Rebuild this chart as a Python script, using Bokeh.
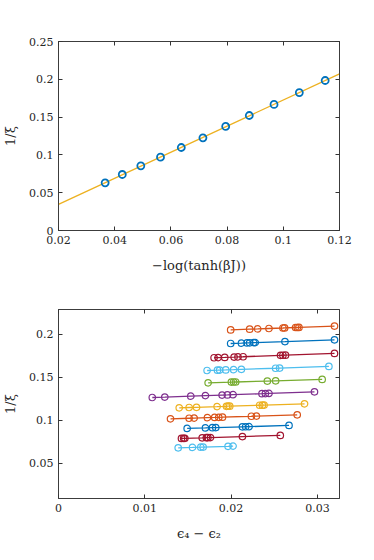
import numpy as np
from bokeh.plotting import figure
from bokeh.layouts import column
from bokeh.models import LinearAxis, FixedTicker, Range1d
from bokeh.embed import file_html
from bokeh.resources import INLINE

# ---------- data: top panel ----------
top_x = [0.0366, 0.0427, 0.0493, 0.0563, 0.0637, 0.0714, 0.0795, 0.0879, 0.0967, 0.1057, 0.1149]
top_y = [0.0630, 0.0741, 0.0855, 0.0970, 0.1098, 0.1226, 0.1376, 0.1521, 0.1667, 0.1825, 0.1984]
top_xticks = [0.02, 0.04, 0.06, 0.08, 0.10, 0.12]
top_xlabels = ["0.02", "0.04", "0.06", "0.08", "0.1", "0.12"]
top_yticks = [0, 0.05, 0.10, 0.15, 0.20, 0.25]
top_ylabels = ["0", "0.05", "0.1", "0.15", "0.2", "0.25"]

# ---------- data: bottom panel (top series first) ----------
s1_x = [0.01995, 0.02215, 0.02308, 0.02439, 0.02601, 0.02620, 0.02747, 0.02767, 0.02786, 0.03198]
s1_y = [0.2053, 0.2061, 0.2064, 0.2069, 0.2075, 0.2076, 0.2081, 0.2081, 0.2082, 0.2097]
s2_x = [0.01995, 0.0212, 0.02185, 0.02215, 0.02262, 0.0228, 0.02624, 0.03198]
s2_y = [0.1895, 0.1899, 0.1902, 0.1903, 0.1905, 0.1905, 0.1917, 0.1938]
s3_x = [0.01803, 0.0185, 0.01926, 0.02035, 0.0208, 0.02139, 0.02573, 0.026, 0.0263, 0.03198]
s3_y = [0.1729, 0.1731, 0.1733, 0.1737, 0.1739, 0.1741, 0.1757, 0.1758, 0.1759, 0.1779]
s4_x = [0.01722, 0.01842, 0.01868, 0.01938, 0.0203, 0.02119, 0.02516, 0.02562, 0.03133]
s4_y = [0.1581, 0.1585, 0.1586, 0.1588, 0.1591, 0.1594, 0.1607, 0.1609, 0.1628]
s5_x = [0.01734, 0.02003, 0.0203, 0.02053, 0.0242, 0.02516, 0.03055]
s5_y = [0.1438, 0.1446, 0.1447, 0.1447, 0.1458, 0.1461, 0.1477]
s6_x = [0.01087, 0.01232, 0.01533, 0.01703, 0.01896, 0.01957, 0.02023, 0.02358, 0.02397, 0.02439, 0.02966]
s6_y = [0.1267, 0.1272, 0.1283, 0.1289, 0.1295, 0.1297, 0.1300, 0.1311, 0.1313, 0.1314, 0.1333]
s7_x = [0.01399, 0.01514, 0.01599, 0.01838, 0.01946, 0.01965, 0.01984, 0.02331, 0.02362, 0.02382, 0.02851]
s7_y = [0.1147, 0.1151, 0.1153, 0.1161, 0.1165, 0.1166, 0.1166, 0.1177, 0.1178, 0.1179, 0.1194]
s8_x = [0.01298, 0.01514, 0.01572, 0.01726, 0.0181, 0.01857, 0.019, 0.02235, 0.02293, 0.02766]
s8_y = [0.1019, 0.1026, 0.1028, 0.1033, 0.1035, 0.1037, 0.1038, 0.1049, 0.1051, 0.1066]
s9_x = [0.01491, 0.01703, 0.01784, 0.01822, 0.02131, 0.02169, 0.02208, 0.02671]
s9_y = [0.0907, 0.0913, 0.0916, 0.0917, 0.0926, 0.0927, 0.0928, 0.0942]
s10_x = [0.01425, 0.0145, 0.01464, 0.01665, 0.01714, 0.0173, 0.01761, 0.02131, 0.0257]
s10_y = [0.0791, 0.0792, 0.0792, 0.0798, 0.0800, 0.0800, 0.0801, 0.0813, 0.0826]
s11_x = [0.01387, 0.01553, 0.01649, 0.01676, 0.01965, 0.02023]
s11_y = [0.0682, 0.0687, 0.0690, 0.0691, 0.0700, 0.0702]
bot_xticks = [0, 0.01, 0.02, 0.03]
bot_xlabels = ["0", "0.01", "0.02", "0.03"]
bot_yticks = [0.05, 0.10, 0.15, 0.20]
bot_ylabels = ["0.05", "0.1", "0.15", "0.2"]

ORANGE = "#D95319"; BLUE = "#0072BD"; DRED = "#A2142F"; LBLUE = "#4DBEEE"
GREEN = "#77AC30"; PURPLE = "#7E2F8E"; YELLOW = "#EDB120"
series = [
    (s1_x, s1_y, ORANGE), (s2_x, s2_y, BLUE), (s3_x, s3_y, DRED), (s4_x, s4_y, LBLUE),
    (s5_x, s5_y, GREEN), (s6_x, s6_y, PURPLE), (s7_x, s7_y, YELLOW), (s8_x, s8_y, ORANGE),
    (s9_x, s9_y, BLUE), (s10_x, s10_y, DRED), (s11_x, s11_y, LBLUE),
]

FONT = "DejaVu Serif"
AX = "#333333"


def style(p, xt, xl, yt, yl, xlabel, ylabel):
    p.grid.visible = False
    p.outline_line_color = AX
    p.outline_line_width = 0.8
    for ax in (p.xaxis[0], p.yaxis[0]):
        ax.axis_line_color = AX
        ax.axis_line_width = 0.8
        ax.major_tick_line_color = AX
        ax.major_tick_in = 4
        ax.major_tick_out = 0
        ax.minor_tick_line_color = None
        ax.major_label_text_font = FONT
        ax.major_label_text_font_size = "11px"
        ax.major_label_text_color = "#262626"
        ax.axis_label_text_font = FONT
        ax.axis_label_text_font_size = "13px"
        ax.axis_label_text_font_style = "normal"
        ax.axis_label_text_color = "#262626"
    p.xaxis[0].ticker = FixedTicker(ticks=xt)
    p.xaxis[0].major_label_overrides = {t: l for t, l in zip(xt, xl)}
    p.yaxis[0].ticker = FixedTicker(ticks=yt)
    p.yaxis[0].major_label_overrides = {t: l for t, l in zip(yt, yl)}
    p.xaxis[0].axis_label = xlabel
    p.yaxis[0].axis_label = ylabel
    p.xaxis[0].major_label_standoff = 5
    p.yaxis[0].major_label_standoff = 5
    p.xaxis[0].axis_label_standoff = 11
    p.yaxis[0].axis_label_standoff = 8
    # mirrored ticks (box on), without labels
    for loc, ticks in (("right", yt), ("above", xt)):
        a = LinearAxis(ticker=FixedTicker(ticks=ticks),
                       major_label_overrides={t: "" for t in ticks},
                       major_tick_in=4, major_tick_out=0, minor_tick_line_color=None,
                       axis_line_color=AX, axis_line_width=0.8, major_tick_line_color=AX,
                       major_label_standoff=0)
        p.add_layout(a, loc)


# ---------- top figure ----------
p1 = figure(frame_width=281, frame_height=189, output_backend="svg", toolbar_location=None,
            x_range=Range1d(0.02, 0.12), y_range=Range1d(0, 0.25),
            min_border_left=49, min_border_right=20, min_border_top=41, min_border_bottom=57)
style(p1, top_xticks, top_xlabels, top_yticks, top_ylabels, "\u2212log(tanh(\u03b2J))", "1/\u03be")
coef = np.polyfit(top_x, top_y, 1)
lx = np.array([p1.x_range.start, p1.x_range.end])
p1.line(lx, np.polyval(coef, lx), line_color=YELLOW, line_width=1.3)
p1.scatter(top_x, top_y, marker="circle", size=7, fill_color=None, line_color=BLUE, line_width=1.8)

# ---------- bottom figure ----------
p2 = figure(frame_width=281, frame_height=189, output_backend="svg", toolbar_location=None,
            x_range=Range1d(0, 0.03256), y_range=Range1d(0.0093, 0.229),
            min_border_left=49, min_border_right=20, min_border_top=22, min_border_bottom=48)
style(p2, bot_xticks, bot_xlabels, bot_yticks, bot_ylabels, "\u03f5\u2084 \u2212 \u03f5\u2082", "1/\u03be")
for xs, ys, c in series:
    p2.line(xs, ys, line_color=c, line_width=1.3)
    p2.scatter(xs, ys, marker="circle", size=6.5, fill_color=None, line_color=c, line_width=1.2)

layout = column(p1, p2, spacing=0)
open("out.html", "w").write(file_html(layout, INLINE))
